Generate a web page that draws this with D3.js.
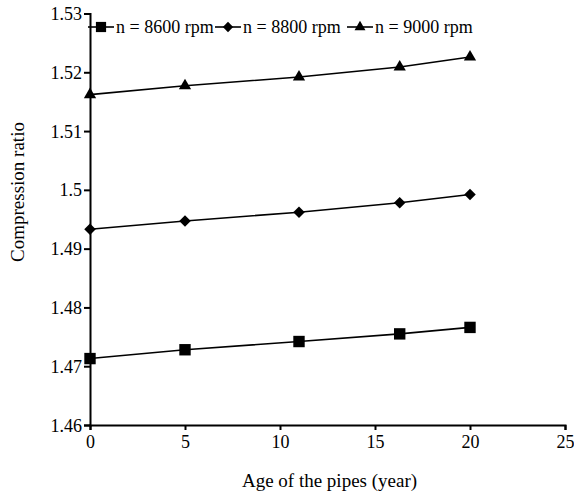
<!DOCTYPE html>
<html>
<head>
<meta charset="utf-8">
<script src="https://cdn.jsdelivr.net/npm/d3@7"></script>
<style>
  body { margin: 0; background: #fff; }
  svg text { font-family: "Liberation Serif", "Times New Roman", serif !important; fill: #000; }
</style>
</head>
<body>
<div id="chart"></div>
<script>
// data
var years = [0, 5, 11, 16.3, 20];
var n8600 = [1.4713, 1.4728, 1.4742, 1.4755, 1.4766];
var n8800 = [1.4933, 1.4947, 1.4962, 1.4978, 1.4992];
var n9000 = [1.5162, 1.5177, 1.5192, 1.5209, 1.5226];
var seriesNames = ["n = 8600 rpm", "n = 8800 rpm", "n = 9000 rpm"];
var xTicks = [0, 5, 10, 15, 20, 25];
var yTicks = [1.46, 1.47, 1.48, 1.49, 1.5, 1.51, 1.52, 1.53];

var svgWidth = 574;
var svgHeight = 493;

var svg = d3.select("#chart")
  .append("svg")
  .attr("width", svgWidth)
  .attr("height", svgHeight);

var x = d3.scaleLinear().domain([0, 25]).range([90, 565]);
var y = d3.scaleLinear().domain([1.46, 1.53]).range([425, 13.5]);

// axes
var xAxis = svg.append("g")
  .attr("transform", "translate(0,425)")
  .call(d3.axisBottom(x).tickValues(xTicks).tickSize(5).tickPadding(5).tickFormat(d3.format("d")));

var yAxis = svg.append("g")
  .attr("transform", "translate(90,0)")
  .call(d3.axisLeft(y).tickValues(yTicks).tickSize(6).tickPadding(2).tickFormat(d => String(+d.toFixed(2))));

[xAxis, yAxis].forEach(function(a) {
  a.attr("font-family", null).attr("font-size", null);
  a.select(".domain").attr("stroke", "#000").attr("stroke-width", 2);
  a.selectAll(".tick line").attr("stroke", "#000").attr("stroke-width", 2);
  a.selectAll(".tick text")
    .style("font-size", "18px")
    .attr("fill", "#000");
});
yAxis.selectAll(".tick text").attr("dy", "0.34em");

// axis titles
svg.append("text")
  .attr("x", x(12.5) + 2)
  .attr("y", 487)
  .attr("text-anchor", "middle")
  .style("font-size", "19px")
  .text("Age of the pipes (year)");

svg.append("text")
  .attr("transform", "translate(24," + 192 + ") rotate(-90)")
  .attr("text-anchor", "middle")
  .style("font-size", "19px")
  .text("Compression ratio");

// series (diamond = square turned 45 degrees)
var series = [
  { name: seriesNames[0], values: n8600, symbol: d3.symbolSquare, size: 130, rot: 0 },
  { name: seriesNames[1], values: n8800, symbol: d3.symbolSquare, size: 66, rot: 45 },
  { name: seriesNames[2], values: n9000, symbol: d3.symbolTriangle, size: 65, rot: 0 }
];

var line = d3.line()
  .x(function(d, i) { return x(years[i]); })
  .y(function(d) { return y(d); });

series.forEach(function(s) {
  svg.append("path")
    .attr("d", line(s.values))
    .attr("fill", "none")
    .attr("stroke", "#000")
    .attr("stroke-width", 1.6);

  svg.selectAll(null)
    .data(s.values)
    .enter()
    .append("path")
    .attr("d", d3.symbol().type(s.symbol).size(s.size))
    .attr("transform", function(d, i) {
      return "translate(" + x(years[i]) + "," + y(d) + ") rotate(" + s.rot + ")";
    })
    .attr("fill", "#000");
});

// legend
var legendX = [88, 215, 347];
var legendY = 27;
series.forEach(function(s, i) {
  var g = svg.append("g").attr("transform", "translate(" + legendX[i] + "," + legendY + ")");
  g.append("line")
    .attr("x1", 0).attr("x2", 26)
    .attr("y1", 0).attr("y2", 0)
    .attr("stroke", "#000").attr("stroke-width", 1.6);
  g.append("path")
    .attr("d", d3.symbol().type(s.symbol).size(s.size * 0.8))
    .attr("transform", "translate(13,0) rotate(" + s.rot + ")")
    .attr("fill", "#000");
  g.append("text")
    .attr("x", 28)
    .attr("y", 6)
    .style("font-size", "18px")
    .text(s.name);
});
</script>
</body>
</html>
